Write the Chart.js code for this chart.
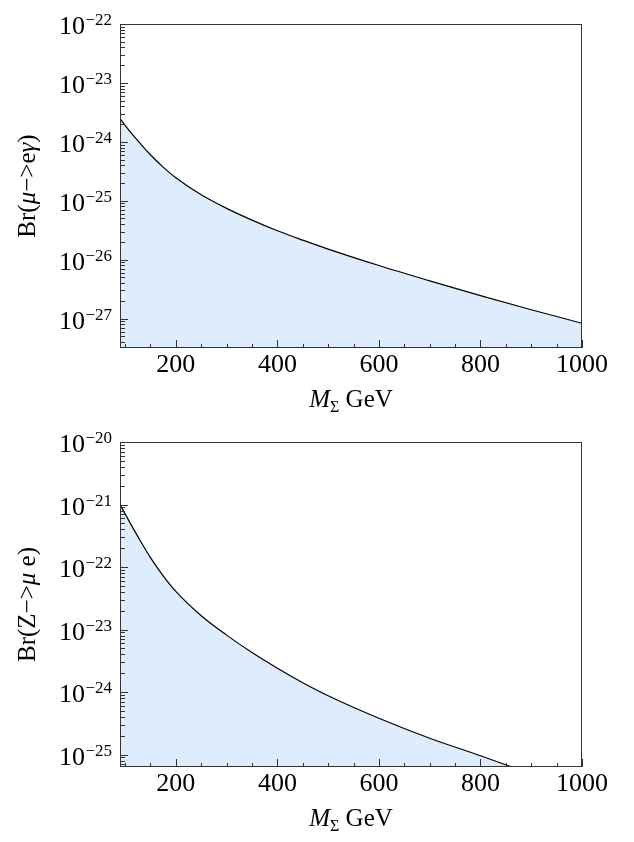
<!DOCTYPE html>
<html><head><meta charset="utf-8">
<script src="https://cdn.jsdelivr.net/npm/chart.js@4.4.0/dist/chart.umd.min.js"></script>
<style>
html,body{margin:0;padding:0;background:#fff;}
#wrap{position:relative;width:634px;height:842px;}
canvas{position:absolute;left:0;}
</style></head><body>
<div id="wrap">
<canvas id="c1" width="634" height="421" style="top:0"></canvas>
<canvas id="c2" width="634" height="421" style="top:421px"></canvas>
</div>
<script>
// ---- data ----
const massTop    = [90, 100, 125, 150, 175, 200, 250, 300, 350, 400, 450, 500, 600, 700, 800, 900, 1000];
const brMuEGamma = [2.51e-24, 1.91e-24, 1.05e-24, 6.03e-25, 3.72e-25, 2.45e-25, 1.26e-25, 7.41e-26, 4.68e-26,
                    3.09e-26, 2.14e-26, 1.51e-26, 7.94e-27, 4.37e-27, 2.45e-27, 1.41e-27, 8.32e-28];
const massBottom = [90, 100, 125, 150, 175, 200, 250, 300, 350, 400, 450, 500, 600, 700, 800, 862];
const brZMuE     = [1.0e-21, 7.08e-22, 3.09e-22, 1.41e-22, 7.24e-23, 4.07e-23, 1.66e-23, 8.13e-24, 4.27e-24,
                    2.40e-24, 1.41e-24, 8.71e-25, 3.80e-25, 1.82e-25, 9.55e-26, 6.31e-26];
const xTickLabels = [200, 400, 600, 800, 1000];
const xMinorTicks = [100, 150, 250, 300, 350, 450, 500, 550, 650, 700, 750, 850, 900, 950];
const yExpTop    = [-27, -26, -25, -24, -23, -22];
const yExpBottom = [-25, -24, -23, -22, -21, -20];

const SERIF = '"Liberation Serif", "Times New Roman", serif';
const FRAME = '#333';

function drawRich(ctx, segs, x, y, align) {
  let total = 0;
  segs.forEach(s => { ctx.font = s.font; s.w = ctx.measureText(s.t).width; total += s.w; });
  let cx = align === 'center' ? x - total / 2 : (align === 'right' ? x - total : x);
  ctx.textAlign = 'left';
  ctx.textBaseline = 'alphabetic';
  segs.forEach(s => { ctx.font = s.font; ctx.fillText(s.t, cx, y + (s.dy || 0)); cx += s.w; });
}

function makeDecor(exps, ylabelSegs) {
  return {
    id: 'decor',
    afterDatasetsDraw(chart) {
      const {ctx, chartArea: a, scales: {x, y}} = chart;
      const L = Math.round(a.left), R = Math.round(a.right), T = Math.round(a.top), B = Math.round(a.bottom);
      ctx.save();
      ctx.strokeStyle = FRAME;
      ctx.lineWidth = 1;
      ctx.beginPath();
      xTickLabels.forEach(v => { const px = Math.round(x.getPixelForValue(v)) + 0.5; ctx.moveTo(px, B); ctx.lineTo(px, B - 8); });
      xMinorTicks.forEach(v => { const px = Math.round(x.getPixelForValue(v)) + 0.5; ctx.moveTo(px, B); ctx.lineTo(px, B - 4); });
      for (let d = exps[0] - 1; d <= exps[exps.length - 1]; d++) {
        for (let k = 1; k <= 9; k++) {
          const v = k * Math.pow(10, d);
          if (v < y.min * 0.999 || v > y.max * 1.001) continue;
          const py = Math.round(y.getPixelForValue(v)) + 0.5;
          ctx.moveTo(L, py); ctx.lineTo(L + (k === 1 ? 8 : 5), py);
        }
      }
      ctx.stroke();
      ctx.strokeRect(L + 0.5, T + 0.5, R - L - 1, B - T - 1);

      ctx.fillStyle = '#000';
      // x tick labels
      ctx.font = '26px ' + SERIF;
      ctx.textAlign = 'center';
      ctx.textBaseline = 'alphabetic';
      xTickLabels.forEach(v => ctx.fillText(String(v), x.getPixelForValue(v), B + 24));
      // y tick labels 10^n
      exps.forEach(e => {
        const py = y.getPixelForValue(Math.pow(10, e));
        ctx.font = '17px ' + SERIF;
        const es = '\u2212' + String(-e);
        const ew = ctx.measureText(es).width;
        ctx.textAlign = 'right';
        ctx.fillText(es, L - 8, py + 1);
        ctx.font = '26px ' + SERIF;
        ctx.fillText('10', L - 8 - ew - 0.5, py + 10);
      });
      // x title
      drawRich(ctx, [
        {t: 'M', font: 'italic 25px ' + SERIF},
        {t: '\u03A3', font: '16px ' + SERIF, dy: 5},
        {t: ' GeV', font: '25px ' + SERIF}
      ], (L + R) / 2, B + 59, 'center');
      // y title
      ctx.save();
      ctx.translate(35, (T + B) / 2);
      ctx.rotate(-Math.PI / 2);
      drawRich(ctx, ylabelSegs, 0, 0, 'center');
      ctx.restore();
      ctx.restore();
    }
  };
}

function build(id, masses, values, yMin, yMax, pad, exps, ylabelSegs) {
  new Chart(document.getElementById(id), {
    type: 'line',
    data: {
      datasets: [{
        data: masses.map((m, i) => ({x: m, y: values[i]})),
        borderColor: '#000',
        borderWidth: 1.2,
        backgroundColor: 'rgb(221,237,254)',
        fill: 'start',
        pointRadius: 0,
        cubicInterpolationMode: 'monotone',
        clip: 0
      }]
    },
    options: {
      responsive: false,
      devicePixelRatio: 1,
      animation: false,
      layout: {padding: pad},
      plugins: {legend: {display: false}, tooltip: {enabled: false}},
      scales: {
        x: {type: 'linear', min: 90, max: 1000, display: false},
        y: {type: 'logarithmic', min: yMin, max: yMax, display: false}
      }
    },
    plugins: [makeDecor(exps, ylabelSegs)]
  });
}

const N = '25px ' + SERIF, I = 'italic 25px ' + SERIF;
build('c1', massTop, brMuEGamma, Math.pow(10, -27.5), 1e-22,
  {left: 120, right: 52, top: 24, bottom: 73}, yExpTop,
  [{t: 'Br(', font: N}, {t: '\u03BC', font: I}, {t: '\u2212>e', font: N}, {t: '\u03B3', font: I}, {t: ')', font: N}]);
build('c2', massBottom, brZMuE, Math.pow(10, -25.2), 1e-20,
  {left: 120, right: 52, top: 21, bottom: 75}, yExpBottom,
  [{t: 'Br(Z\u2212>', font: N}, {t: '\u03BC', font: I}, {t: ' e)', font: N}]);
</script>
</body></html>
